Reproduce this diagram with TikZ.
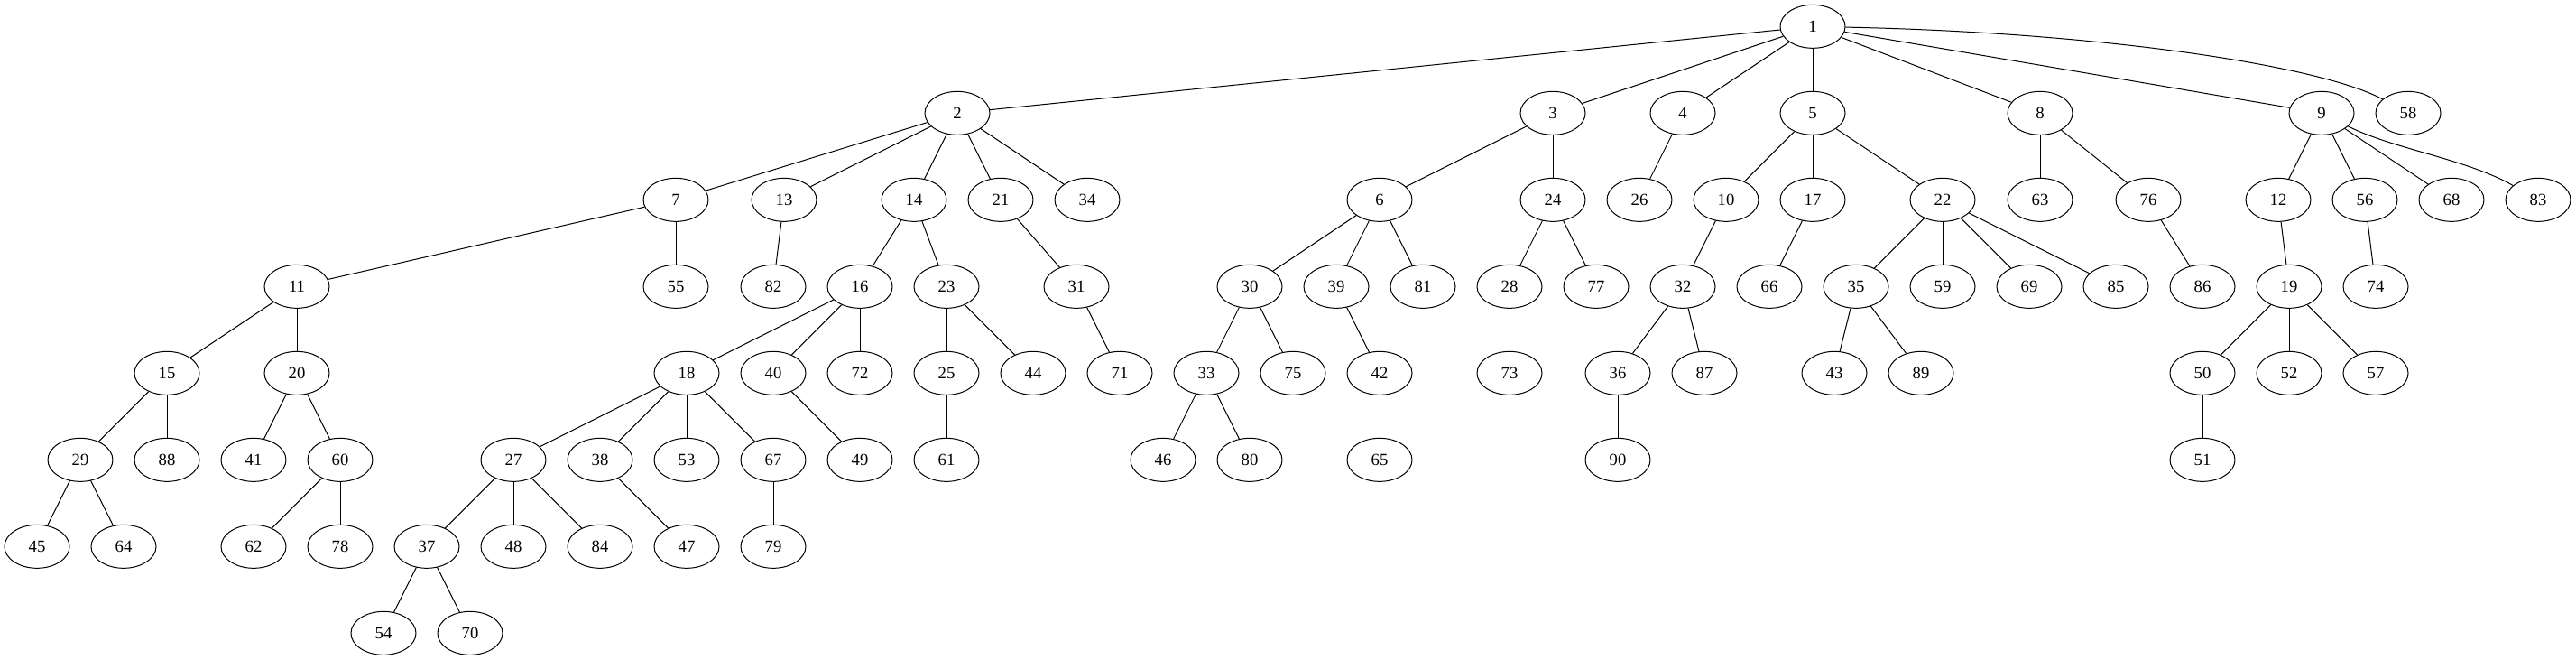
\documentclass[tikz,border=0pt]{standalone}
\usepackage{fontspec}
\setmainfont{Liberation Serif}
\usetikzlibrary{shapes.geometric}
\begin{document}
\begin{tikzpicture}[x=1pt,y=-1pt,
  vtx/.style={draw, ellipse, line width=0.75pt, minimum width=54pt, minimum height=36pt, inner sep=0pt, font=\fontsize{14}{16}\selectfont},
  lnk/.style={draw, line width=0.75pt}]
\useasboundingbox (0,0) rectangle (2141.25,548.25);
% row 0
\node[vtx] (n1) at (1506.75,22) {1};
% row 1
\node[vtx] (n2) at (795.75,94) {2};
\node[vtx] (n3) at (1290.75,94) {3};
\node[vtx] (n4) at (1398.75,94) {4};
\node[vtx] (n5) at (1506.75,94) {5};
\node[vtx] (n8) at (1695.75,94) {8};
\node[vtx] (n9) at (1929.75,94) {9};
\node[vtx] (n58) at (2001.75,94) {58};
% row 2
\node[vtx] (n7) at (561.75,166) {7};
\node[vtx] (n13) at (651.75,166) {13};
\node[vtx] (n14) at (759.75,166) {14};
\node[vtx] (n21) at (831.75,166) {21};
\node[vtx] (n34) at (903.75,166) {34};
\node[vtx] (n6) at (1146.75,166) {6};
\node[vtx] (n24) at (1290.75,166) {24};
\node[vtx] (n26) at (1362.75,166) {26};
\node[vtx] (n10) at (1434.75,166) {10};
\node[vtx] (n17) at (1506.75,166) {17};
\node[vtx] (n22) at (1614.75,166) {22};
\node[vtx] (n63) at (1695.75,166) {63};
\node[vtx] (n76) at (1785.75,166) {76};
\node[vtx] (n12) at (1893.75,166) {12};
\node[vtx] (n56) at (1965.75,166) {56};
\node[vtx] (n68) at (2037.75,166) {68};
\node[vtx] (n83) at (2109.75,166) {83};
% row 3
\node[vtx] (n11) at (246.75,238) {11};
\node[vtx] (n55) at (561.75,238) {55};
\node[vtx] (n82) at (642.75,238) {82};
\node[vtx] (n16) at (714.75,238) {16};
\node[vtx] (n23) at (786.75,238) {23};
\node[vtx] (n31) at (894.75,238) {31};
\node[vtx] (n30) at (1038.75,238) {30};
\node[vtx] (n39) at (1110.75,238) {39};
\node[vtx] (n81) at (1182.75,238) {81};
\node[vtx] (n28) at (1254.75,238) {28};
\node[vtx] (n77) at (1326.75,238) {77};
\node[vtx] (n32) at (1398.75,238) {32};
\node[vtx] (n66) at (1470.75,238) {66};
\node[vtx] (n35) at (1542.75,238) {35};
\node[vtx] (n59) at (1614.75,238) {59};
\node[vtx] (n69) at (1686.75,238) {69};
\node[vtx] (n85) at (1758.75,238) {85};
\node[vtx] (n86) at (1830.75,238) {86};
\node[vtx] (n19) at (1902.75,238) {19};
\node[vtx] (n74) at (1974.75,238) {74};
% row 4
\node[vtx] (n15) at (138.75,310) {15};
\node[vtx] (n20) at (246.75,310) {20};
\node[vtx] (n18) at (570.75,310) {18};
\node[vtx] (n40) at (642.75,310) {40};
\node[vtx] (n72) at (714.75,310) {72};
\node[vtx] (n25) at (786.75,310) {25};
\node[vtx] (n44) at (858.75,310) {44};
\node[vtx] (n71) at (930.75,310) {71};
\node[vtx] (n33) at (1002.75,310) {33};
\node[vtx] (n75) at (1074.75,310) {75};
\node[vtx] (n42) at (1146.75,310) {42};
\node[vtx] (n73) at (1254.75,310) {73};
\node[vtx] (n36) at (1344.75,310) {36};
\node[vtx] (n87) at (1416.75,310) {87};
\node[vtx] (n43) at (1524.75,310) {43};
\node[vtx] (n89) at (1596.75,310) {89};
\node[vtx] (n50) at (1830.75,310) {50};
\node[vtx] (n52) at (1902.75,310) {52};
\node[vtx] (n57) at (1974.75,310) {57};
% row 5
\node[vtx] (n29) at (66.75,382) {29};
\node[vtx] (n88) at (138.75,382) {88};
\node[vtx] (n41) at (210.75,382) {41};
\node[vtx] (n60) at (282.75,382) {60};
\node[vtx] (n27) at (426.75,382) {27};
\node[vtx] (n38) at (498.75,382) {38};
\node[vtx] (n53) at (570.75,382) {53};
\node[vtx] (n67) at (642.75,382) {67};
\node[vtx] (n49) at (714.75,382) {49};
\node[vtx] (n61) at (786.75,382) {61};
\node[vtx] (n46) at (966.75,382) {46};
\node[vtx] (n80) at (1038.75,382) {80};
\node[vtx] (n65) at (1146.75,382) {65};
\node[vtx] (n90) at (1344.75,382) {90};
\node[vtx] (n51) at (1830.75,382) {51};
% row 6
\node[vtx] (n45) at (30.75,454) {45};
\node[vtx] (n64) at (102.75,454) {64};
\node[vtx] (n62) at (210.75,454) {62};
\node[vtx] (n78) at (282.75,454) {78};
\node[vtx] (n37) at (354.75,454) {37};
\node[vtx] (n48) at (426.75,454) {48};
\node[vtx] (n84) at (498.75,454) {84};
\node[vtx] (n47) at (570.75,454) {47};
\node[vtx] (n79) at (642.75,454) {79};
% row 7
\node[vtx] (n54) at (318.75,526) {54};
\node[vtx] (n70) at (390.75,526) {70};
% edges
\foreach \a/\b in {1/2,1/3,1/4,1/5,1/8,1/9,
  2/7,2/13,2/14,2/21,2/34,
  3/6,3/24,4/26,5/10,5/17,5/22,8/63,8/76,
  9/12,9/56,9/68,
  7/11,7/55,13/82,14/16,14/23,21/31,
  6/30,6/39,6/81,24/28,24/77,10/32,17/66,
  22/35,22/59,22/69,22/85,76/86,12/19,56/74,
  11/15,11/20,16/18,16/40,16/72,23/25,23/44,31/71,
  30/33,30/75,39/42,28/73,32/36,32/87,35/43,35/89,
  19/50,19/52,19/57,
  15/29,15/88,20/41,20/60,18/27,18/38,18/53,18/67,
  40/49,25/61,33/46,33/80,42/65,36/90,50/51,
  29/45,29/64,60/62,60/78,27/37,27/48,27/84,38/47,67/79,
  37/54,37/70}
  \draw[lnk] (n\a) -- (n\b);
\draw[lnk] (n1) .. controls (1750,27) and (1930,55) .. (n58);
\draw[lnk] (n9) .. controls (1990,124) and (2050,132) .. (n83);
\end{tikzpicture}
\end{document}
